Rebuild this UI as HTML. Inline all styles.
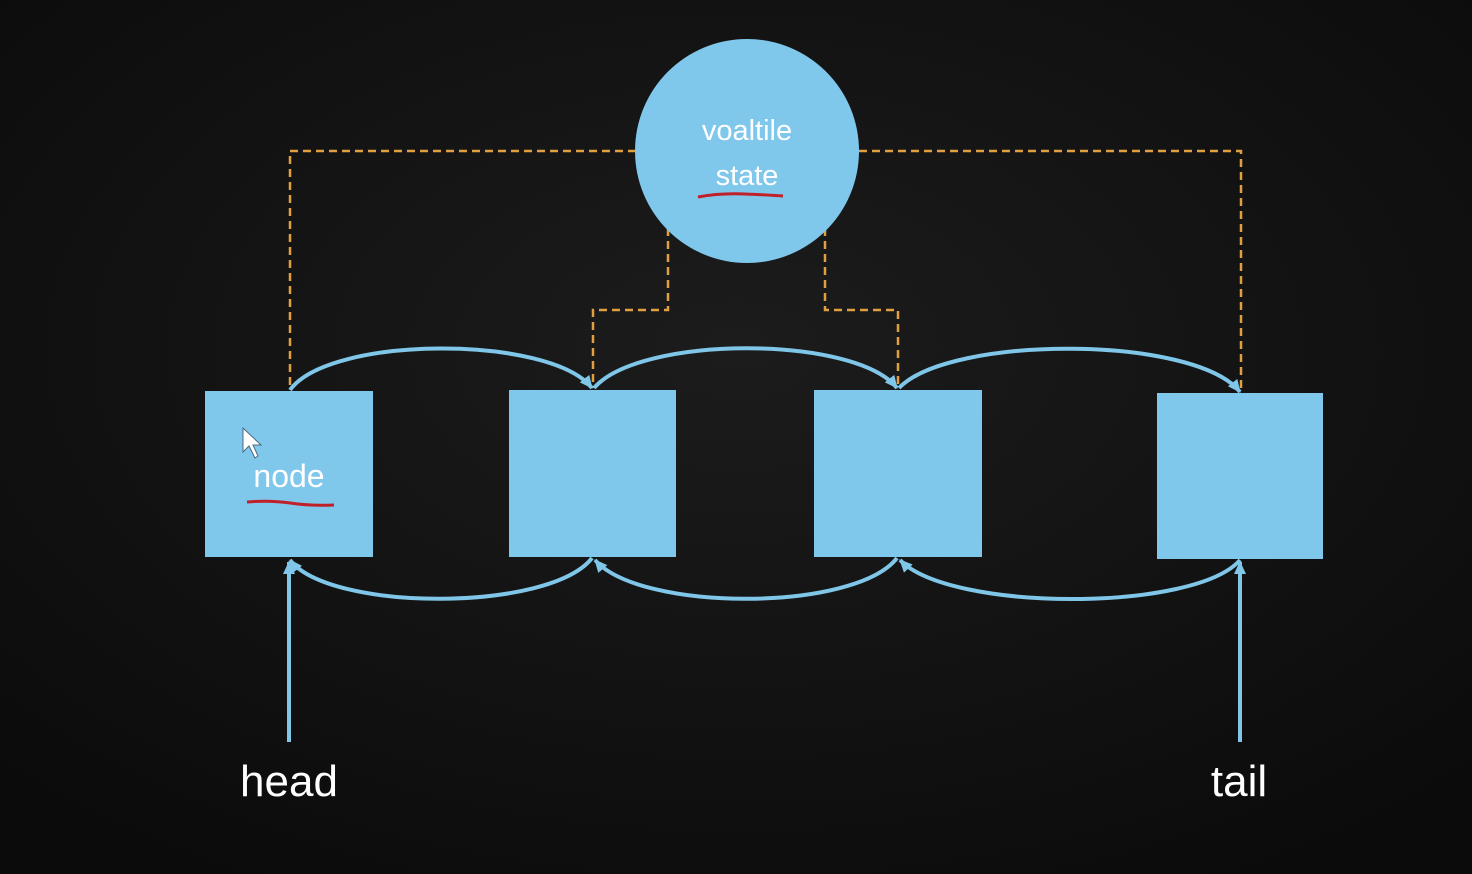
<!DOCTYPE html>
<html><head><meta charset="utf-8"><style>
html,body{margin:0;padding:0;background:#121212;}
svg{display:block}
text{font-family:"Liberation Sans",sans-serif;}
</style></head><body>
<svg width="1472" height="874" viewBox="0 0 1472 874" xmlns="http://www.w3.org/2000/svg">
<defs>
<marker id="a" markerWidth="14" markerHeight="14" refX="12" refY="7" orient="auto" markerUnits="userSpaceOnUse">
<path d="M0,1 L13,7 L0,13 z" fill="#7fc6e8"/>
</marker>
<radialGradient id="bg" cx="50%" cy="40%" r="70%">
<stop offset="0" stop-color="#1c1c1c"/><stop offset="1" stop-color="#0b0b0b"/>
</radialGradient>
</defs>
<rect width="1472" height="874" fill="url(#bg)"/>
<!-- dashed lines -->
<g stroke="#e0a040" stroke-width="2.5" stroke-dasharray="8,5" fill="none">
<path d="M636,151 H290 V390"/>
<path d="M859,151 H1241 V392"/>
<path d="M668,228 V310 H593 V388"/>
<path d="M825,228 V310 H898 V388"/>
</g>
<!-- circle -->
<circle cx="747" cy="151" r="112" fill="#80c7ec"/>
<text x="747" y="140" font-size="29" fill="#fff" text-anchor="middle">voaltile</text>
<text x="747" y="185" font-size="29" fill="#fff" text-anchor="middle">state</text>
<path d="M698,197 Q720,193 745,194 T783,196" stroke="#c0202a" stroke-width="3" fill="none"/>
<!-- boxes -->
<g fill="#80c7ec">
<rect x="205" y="391" width="168" height="166"/>
<rect x="509" y="390" width="167" height="167"/>
<rect x="814" y="390" width="168" height="167"/>
<rect x="1157" y="393" width="166" height="166"/>
</g>
<text x="289" y="487" font-size="32" fill="#fff" text-anchor="middle">node</text>
<path d="M247,502 Q270,500 290,503 T334,505" stroke="#c0202a" stroke-width="3" fill="none"/>
<path d="M243,428 L243,452 L249,446 L255,458 L258,456 L253,445 L261,445 Z" fill="#fff" stroke="#4a6a80" stroke-width="1"/>
<!-- arcs -->
<g stroke="#7fc6e8" stroke-width="4" fill="none">
<path d="M290,390 C330,335 550,335 592,388" marker-end="url(#a)"/>
<path d="M594,388 C640,335 855,335 897,388" marker-end="url(#a)"/>
<path d="M899,388 C950,335 1195,335 1240,392" marker-end="url(#a)"/>
<path d="M592,558 C550,612 330,612 290,560" marker-end="url(#a)"/>
<path d="M897,558 C855,612 640,612 595,560" marker-end="url(#a)"/>
<path d="M1240,560 C1195,612 950,612 900,560" marker-end="url(#a)"/>
<path d="M289,742 V562" marker-end="url(#a)"/>
<path d="M1240,742 V562" marker-end="url(#a)"/>
</g>
<text x="289" y="796" font-size="44" fill="#fff" text-anchor="middle">head</text>
<text x="1239" y="796" font-size="44" fill="#fff" text-anchor="middle">tail</text>
</svg>
</body></html>
